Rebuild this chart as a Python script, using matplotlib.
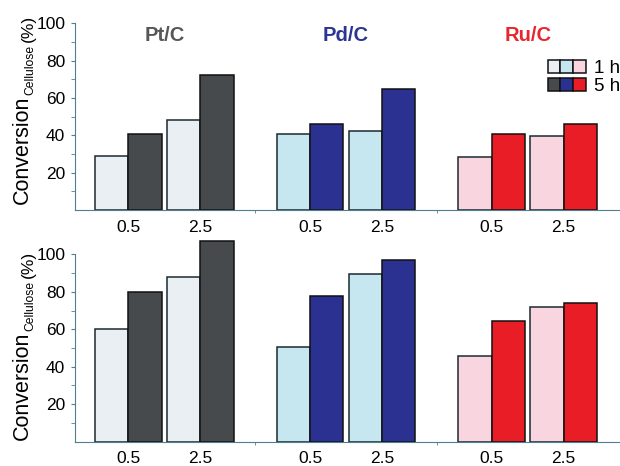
import matplotlib
matplotlib.use("Agg")
import matplotlib.pyplot as plt
from matplotlib.patches import Patch
from matplotlib.legend_handler import HandlerTuple

plt.rcParams['font.family'] = ['Liberation Sans', 'DejaVu Sans']

catalysts = ["Pt/C", "Pd/C", "Ru/C"]
loadings = ["0.5", "2.5"]
times = ["1 h", "5 h"]

# conversion values [catalyst][loading] for each reaction time
top_1h = [[29, 48], [40.5, 42.5], [28.5, 39.5]]
top_5h = [[40.7, 72.3], [46, 64.6], [40.5, 46]]
bot_1h = [[60, 88], [50.7, 89.3], [45.7, 72]]
bot_5h = [[80, 107.3], [78, 97], [64.4, 74]]

title_colors = ["#555759", "#2b3592", "#e8262d"]
light_colors = ["#e9eff2", "#c6e6f0", "#f8d5df"]
dark_colors = ["#474a4d", "#2b3190", "#e81d25"]

group_step = 5.45
pair_step = 2.16
spine_col = "#4f7e90"
W, H = 620, 466

fig = plt.figure(figsize=(6.2, 4.66), dpi=100)
ax_top = fig.add_axes([0.121, 0.5494, 0.879, 0.4006])
ax_bot = fig.add_axes([0.121, 0.0521, 0.879, 0.4344])


def draw_panel(ax, vals_1h, vals_5h, ymax):
    ticks = []
    for g in range(len(catalysts)):
        for c in range(len(loadings)):
            x0 = g * group_step + c * pair_step
            ax.bar(x0, vals_1h[g][c], width=1, align='edge', color=light_colors[g],
                   edgecolor='#1b2a30', linewidth=1.1, zorder=2)
            ax.bar(x0 + 1, vals_5h[g][c], width=1, align='edge', color=dark_colors[g],
                   edgecolor='#111111', linewidth=1.1, zorder=2)
            ticks.append(x0 + 1)
    ax.set_xlim(-0.6, 15.75)
    ax.set_ylim(0, ymax)
    ax.set_xticks(ticks)
    ax.set_xticklabels(loadings * len(catalysts), fontsize=12.5)
    ax.set_xticks([group_step * (g + 1) - (group_step - pair_step - 2) / 2 for g in range(2)], minor=True)
    ax.tick_params(axis='x', which='major', length=0, pad=7)
    ax.tick_params(axis='x', which='minor', length=2, color=spine_col)
    ax.set_yticks([20, 40, 60, 80, 100])
    ax.set_yticks(range(10, 101, 20), minor=True)
    ax.tick_params(axis='y', which='both', length=3, color=spine_col, labelsize=12.5, pad=4)
    for s in ['top', 'right']:
        ax.spines[s].set_visible(False)
    ax.spines['left'].set_bounds(0, 100)
    ax.spines['left'].set_color(spine_col)
    ax.spines['bottom'].set_color(spine_col)


def stacked_ylabel(y_start_px):
    # "Conversion" + small subscript + "(%)", rotated and chained end to end
    r = fig.canvas.get_renderer()
    parts = [("Conversion", 15.5, 28, 0), ("Cellulose", 8.7, 33, 1), ("(%)", 12.5, 33, 3)]
    y = H - y_start_px
    for txt, size, xb, gap in parts:
        t = fig.text(xb / W, (y + gap) / H, txt, rotation=90, rotation_mode='anchor',
                     ha='left', va='baseline', fontsize=size)
        y = t.get_window_extent(r).y1


draw_panel(ax_top, top_1h, top_5h, 100)
draw_panel(ax_bot, bot_1h, bot_5h, 108)
stacked_ylabel(204)
stacked_ylabel(440)

for g, name in enumerate(catalysts):
    xc = g * group_step + (pair_step + 2) / 2
    ax_top.text(xc, 93.3, name, ha='center', va='center', fontsize=14.5,
                fontweight='bold', color=title_colors[g])

h1 = tuple(Patch(facecolor=c, edgecolor='#111111', linewidth=1.1) for c in light_colors)
h5 = tuple(Patch(facecolor=c, edgecolor='#111111', linewidth=1.1) for c in dark_colors)
ax_top.legend([h1, h5], times, handler_map={tuple: HandlerTuple(ndivide=None, pad=0)},
              loc='upper left', bbox_to_anchor=(0.867, 0.806), frameon=False,
              fontsize=13.5, handlelength=2.05, handleheight=0.7, handletextpad=0.45,
              labelspacing=0.08, borderpad=0, borderaxespad=0)

fig.savefig("out.png", dpi=100)
